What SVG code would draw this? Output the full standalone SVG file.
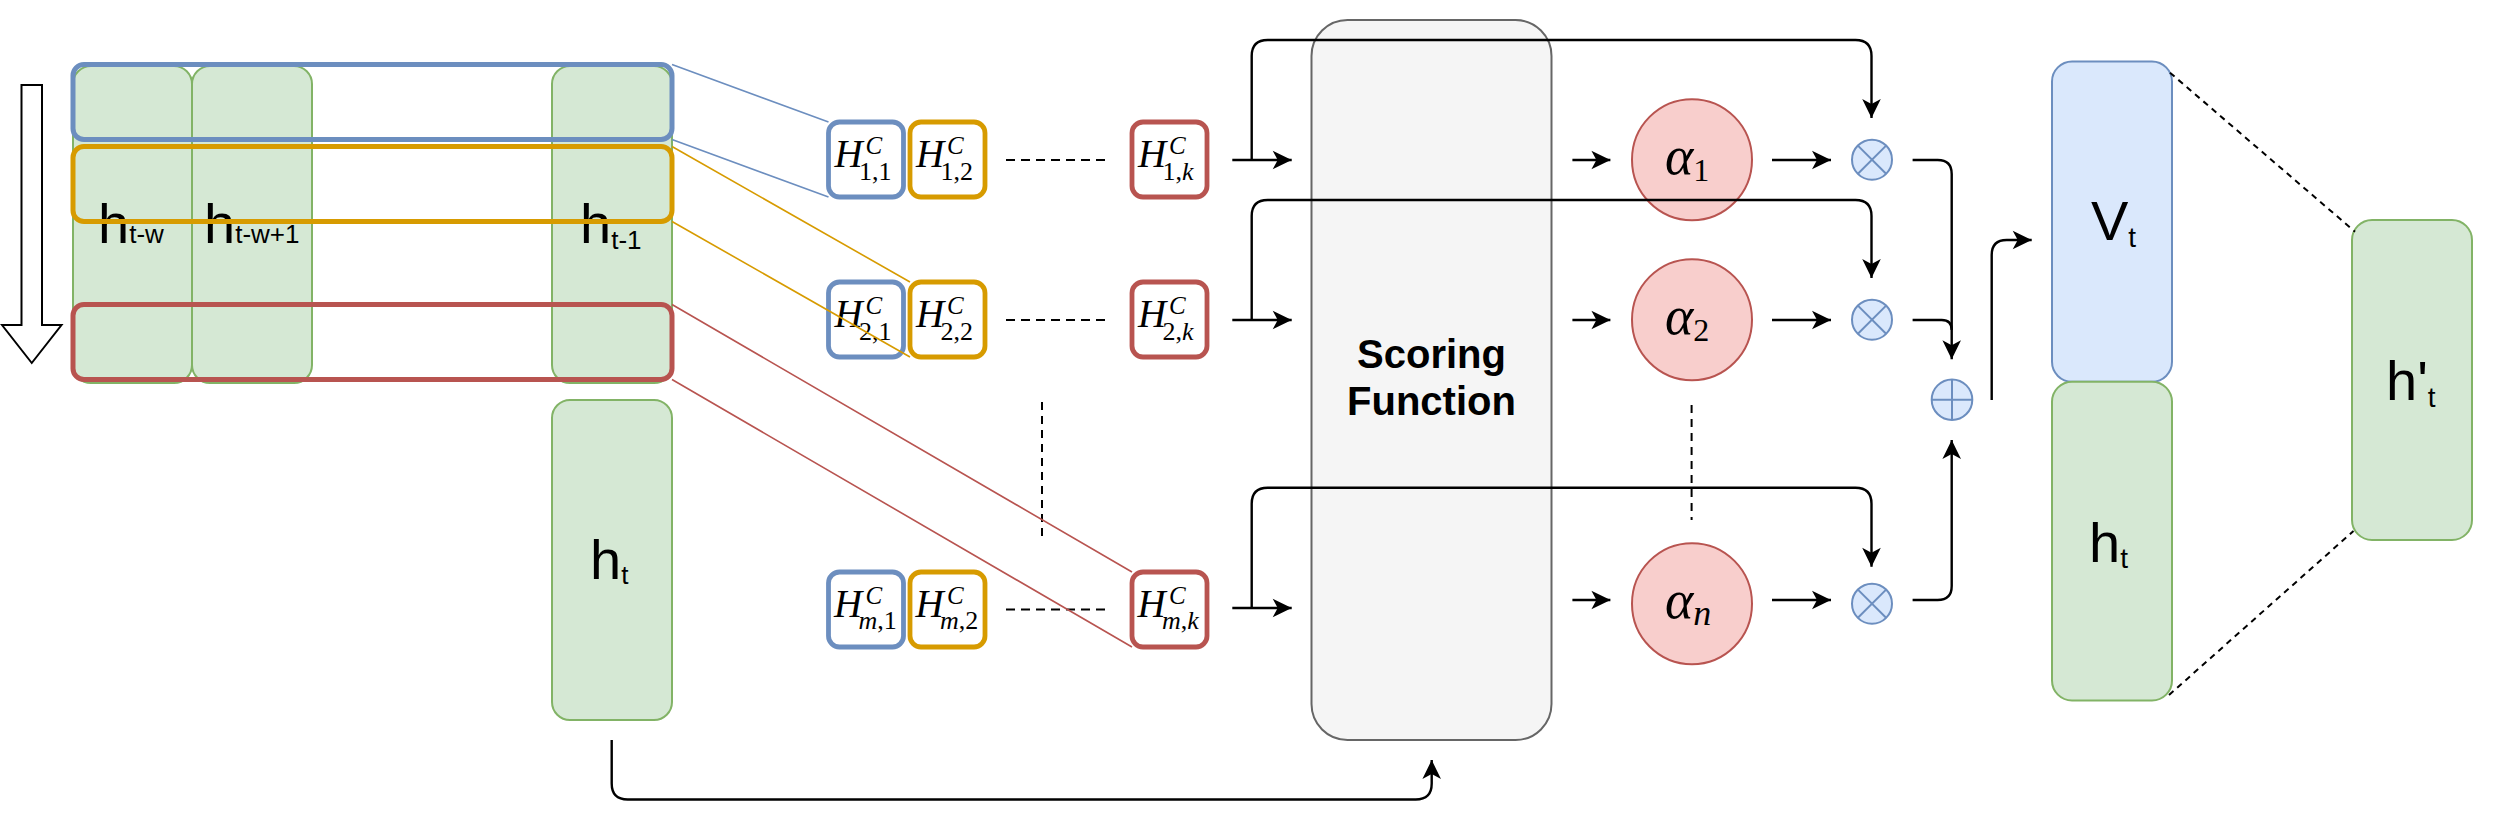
<svg xmlns="http://www.w3.org/2000/svg" width="2494" height="816" viewBox="0 0 2494 816">
<style>
.green{fill:#d5e8d4;stroke:#82b366;stroke-width:2}
.bluebox{fill:#dae8fc;stroke:#6c8ebf;stroke-width:2}
.selb{fill:none;stroke:#6c8ebf;stroke-width:5}
.selo{fill:none;stroke:#d79b00;stroke-width:5}
.selr{fill:none;stroke:#b85450;stroke-width:5}
.hb{fill:#ffffff;stroke:#6c8ebf;stroke-width:4.8}
.ho{fill:#ffffff;stroke:#d79b00;stroke-width:4.8}
.hr{fill:#ffffff;stroke:#b85450;stroke-width:4.8}
.alpha{fill:#f8cecc;stroke:#b85450;stroke-width:2}
.op{fill:#dae8fc;stroke:#6c8ebf;stroke-width:2}
.opl{fill:none;stroke:#6c8ebf;stroke-width:2}
.conn{fill:none;stroke:#000;stroke-width:2.4}
.arr{marker-end:url(#ah)}
.lb{fill:none;stroke:#6c8ebf;stroke-width:1.6}
.lo{fill:none;stroke:#d79b00;stroke-width:1.6}
.lr{fill:none;stroke:#b85450;stroke-width:1.6}
.dash{fill:none;stroke:#000;stroke-width:2;stroke-dasharray:9 6}
.dash2{fill:none;stroke:#000;stroke-width:2;stroke-dasharray:6 5}
.sans{font-family:"Liberation Sans",Arial,sans-serif;font-size:56px;fill:#000}
.sub{font-size:26px}
.sub2{font-size:28px}
.math{font-family:"Liberation Serif","Times New Roman",serif;font-style:italic;fill:#000}
.H{font-size:39px}
.sup{font-size:25px}
.hs{font-size:26px;font-style:normal}
.it{font-style:italic}
.up{font-style:normal}
.title{font-family:"Liberation Sans",Arial,sans-serif;font-size:40px;font-weight:bold;fill:#000;text-anchor:middle}
</style>
<defs>
<marker id="ah" viewBox="0 -10 20 20" refX="20" refY="0" markerWidth="20" markerHeight="20" markerUnits="userSpaceOnUse" orient="auto">
<path d="M1,-9.3 L20,0 L1,9.3 L6,0 Z" fill="#000"/>
</marker>
</defs>

<!-- direction arrow -->
<g id="dir-arrow">
<polygon points="21.5,85 42,85 42,325 61.5,325 31.75,363 2,325 21.5,325" fill="#fff" stroke="#000" stroke-width="2"/>
</g>

<!-- hidden state columns -->
<g id="col-tw">
<rect x="73" y="66" width="119" height="317" rx="18" class="green"/>
<text class="sans" x="98" y="243">h<tspan class="sub">t-w</tspan></text>
</g>
<g id="col-tw1">
<rect x="192" y="66" width="120" height="317" rx="18" class="green"/>
<text class="sans" x="204" y="243">h<tspan class="sub">t-w+1</tspan></text>
</g>
<g id="col-t1">
<rect x="552" y="66" width="120" height="317" rx="18" class="green"/>
<text class="sans" x="580" y="243">h<tspan class="sub" dy="6">t-1</tspan></text>
</g>
<g id="sel-blue"><rect x="73" y="64.5" width="599" height="75" rx="11" class="selb"/></g>
<g id="sel-orange"><rect x="73" y="146.5" width="599" height="75" rx="11" class="selo"/></g>
<g id="sel-red"><rect x="73" y="304.5" width="599" height="75" rx="11" class="selr"/></g>

<g id="ht-left">
<rect x="552" y="400" width="120" height="320" rx="18" class="green"/>
<text class="sans" x="590" y="579">h<tspan class="sub" dy="5">t</tspan></text>
</g>

<!-- H^C boxes -->
<g id="H11"><rect x="828.5" y="122" width="75" height="75" rx="11" class="hb"/>
<text class="math"><tspan class="H" x="834.5" y="167.3">H</tspan><tspan class="sup" x="865.5" y="154">C</tspan><tspan class="hs" x="859" y="179.5">1,1</tspan></text></g>
<g id="H12"><rect x="910" y="122" width="75" height="75" rx="11" class="ho"/>
<text class="math"><tspan class="H" x="916" y="167.3">H</tspan><tspan class="sup" x="947" y="154">C</tspan><tspan class="hs" x="940.5" y="179.5">1,2</tspan></text></g>
<g id="H1k"><rect x="1132" y="122" width="75" height="75" rx="11" class="hr"/>
<text class="math"><tspan class="H" x="1138" y="167.3">H</tspan><tspan class="sup" x="1169" y="154">C</tspan><tspan class="hs" x="1162.5" y="179.5">1,<tspan class="it">k</tspan></tspan></text></g>

<g id="H21"><rect x="828.5" y="282" width="75" height="75" rx="11" class="hb"/>
<text class="math"><tspan class="H" x="834.5" y="327.3">H</tspan><tspan class="sup" x="865.5" y="314">C</tspan><tspan class="hs" x="859" y="339.5">2,1</tspan></text></g>
<g id="H22"><rect x="910" y="282" width="75" height="75" rx="11" class="ho"/>
<text class="math"><tspan class="H" x="916" y="327.3">H</tspan><tspan class="sup" x="947" y="314">C</tspan><tspan class="hs" x="940.5" y="339.5">2,2</tspan></text></g>
<g id="H2k"><rect x="1132" y="282" width="75" height="75" rx="11" class="hr"/>
<text class="math"><tspan class="H" x="1138" y="327.3">H</tspan><tspan class="sup" x="1169" y="314">C</tspan><tspan class="hs" x="1162.5" y="339.5">2,<tspan class="it">k</tspan></tspan></text></g>

<g id="Hm1"><rect x="828.5" y="572" width="75" height="75" rx="11" class="hb"/>
<text class="math"><tspan class="H" x="834" y="617">H</tspan><tspan class="sup" x="865.5" y="604">C</tspan><tspan class="hs" x="858.5" y="629"><tspan class="it">m</tspan>,1</tspan></text></g>
<g id="Hm2"><rect x="910" y="572" width="75" height="75" rx="11" class="ho"/>
<text class="math"><tspan class="H" x="915.5" y="617">H</tspan><tspan class="sup" x="947" y="604">C</tspan><tspan class="hs" x="940" y="629"><tspan class="it">m</tspan>,2</tspan></text></g>
<g id="Hmk"><rect x="1132" y="572" width="75" height="75" rx="11" class="hr"/>
<text class="math"><tspan class="H" x="1137.5" y="617">H</tspan><tspan class="sup" x="1169" y="604">C</tspan><tspan class="hs" x="1162" y="629"><tspan class="it">m</tspan>,<tspan class="it">k</tspan></tspan></text></g>

<!-- scoring function -->
<g id="scoring">
<rect x="1311.5" y="20" width="240" height="720" rx="36" fill="#f5f5f5" stroke="#666666" stroke-width="2"/>
<text class="title" x="1431.5" y="368">Scoring</text>
<text class="title" x="1431.5" y="415">Function</text>
</g>

<!-- alphas -->
<g id="alpha1"><ellipse cx="1692" cy="159.7" rx="60" ry="60.5" class="alpha"/>
<text class="math" x="1665" y="173.5" font-size="54">α<tspan class="up" font-size="32" dy="7">1</tspan></text></g>
<g id="alpha2"><ellipse cx="1692" cy="319.7" rx="60" ry="60.5" class="alpha"/>
<text class="math" x="1665" y="333.5" font-size="54">α<tspan class="up" font-size="32" dy="7">2</tspan></text></g>
<g id="alphan"><ellipse cx="1692" cy="603.7" rx="60" ry="60.5" class="alpha"/>
<text class="math" x="1665" y="617.5" font-size="54">α<tspan font-size="36" dy="7">n</tspan></text></g>

<!-- multiply ops -->
<g id="mul1"><circle cx="1872" cy="159.7" r="20" class="op"/><path d="M1857.9,145.6 L1886.1,173.8 M1886.1,145.6 L1857.9,173.8" class="opl"/></g>
<g id="mul2"><circle cx="1872" cy="319.7" r="20" class="op"/><path d="M1857.9,305.6 L1886.1,333.8 M1886.1,305.6 L1857.9,333.8" class="opl"/></g>
<g id="muln"><circle cx="1872" cy="603.7" r="20" class="op"/><path d="M1857.9,589.6 L1886.1,617.8 M1886.1,589.6 L1857.9,617.8" class="opl"/></g>
<g id="add"><circle cx="1952" cy="399.7" r="20.3" class="op"/><path d="M1931.7,399.7 H1972.3 M1952,379.4 V420" class="opl"/></g>

<!-- right boxes -->
<g id="Vt"><rect x="2052" y="61.5" width="120" height="320.3" rx="20" class="bluebox"/>
<text class="sans" x="2091" y="240">V<tspan class="sub2" dy="7">t</tspan></text></g>
<g id="ht-right"><rect x="2052" y="381.8" width="120" height="318.7" rx="20" class="green"/>
<text class="sans" x="2089" y="561.5">h<tspan class="sub2" dy="6.5">t</tspan></text></g>
<g id="ht-prime"><rect x="2352" y="220" width="120" height="320" rx="20" class="green"/>
<text class="sans" x="2386" y="400">h'<tspan class="sub2" dy="7">t</tspan></text></g>

<!-- dotted/dashed marks -->
<g id="ellipsis">
<path d="M1006,160 H1105 M1006,320 H1105 M1006,609.5 H1105" class="dash"/>
<path d="M1042,402 V541" class="dash" style="stroke-dasharray:8 6"/>
<path d="M1691.6,405 V520" class="dash" style="stroke-dasharray:8 6"/>
<path d="M2170,72.7 L2355,231.7 M2169,695 L2353.5,531" class="dash2"/>
</g>

<!-- connectors -->
<g id="connectors">
<path d="M672,64.5 L828.5,122 M672,139.5 L828.5,197" class="lb"/>
<path d="M672,146.5 L910,282 M672,221.5 L910,357" class="lo"/>
<path d="M672,304.5 L1132,572 M672,379.5 L1132,647" class="lr"/>

<path d="M1232.3,160 H1291.7" class="conn arr"/>
<path d="M1232.3,320 H1291.7" class="conn arr"/>
<path d="M1232.3,608 H1291.7" class="conn arr"/>
<path d="M1251.7,160 V56 Q1251.7,40 1267.7,40 H1855.5 Q1871.5,40 1871.5,56 V118" class="conn arr"/>
<path d="M1251.7,320 V216 Q1251.7,200 1267.7,200 H1855.5 Q1871.5,200 1871.5,216 V278" class="conn arr"/>
<path d="M1251.7,608 V503.7 Q1251.7,487.7 1267.7,487.7 H1855.5 Q1871.5,487.7 1871.5,503.7 V566.7" class="conn arr"/>

<path d="M1572.4,160 H1610.4" class="conn arr"/>
<path d="M1572.4,320 H1610.4" class="conn arr"/>
<path d="M1572.4,600 H1610.4" class="conn arr"/>
<path d="M1772,160 H1831" class="conn arr"/>
<path d="M1772,320 H1831" class="conn arr"/>
<path d="M1772,600 H1831" class="conn arr"/>

<path d="M1912.6,160 H1937.7 Q1951.7,160 1951.7,174 V359.3" class="conn arr"/>
<path d="M1912.6,320 H1941.7 Q1951.7,320 1951.7,330" class="conn"/>
<path d="M1912.6,600 H1937.7 Q1951.7,600 1951.7,586 V440" class="conn arr"/>
<path d="M1991.7,400 V255 Q1991.7,240 2006.7,240 H2031.7" class="conn arr"/>
<path d="M611.7,740 V783.5 Q611.7,799.5 627.7,799.5 H1415.7 Q1431.7,799.5 1431.7,783.5 V760" class="conn arr"/>
</g>
</svg>
